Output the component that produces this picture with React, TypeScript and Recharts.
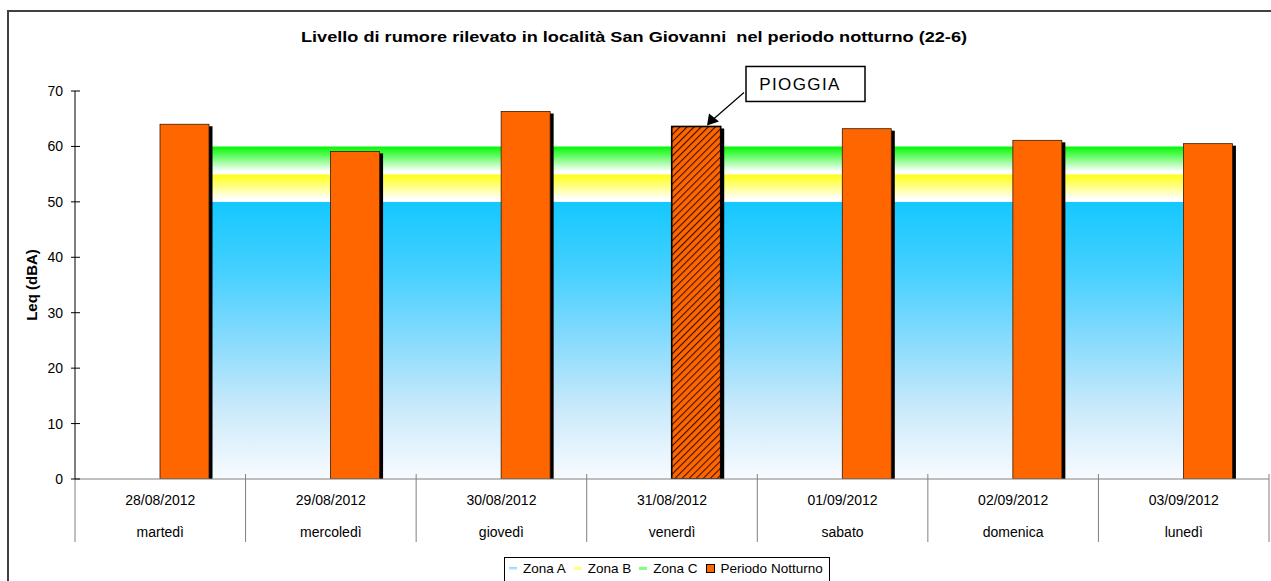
import React from 'react';
import { ComposedChart, Area, Bar, XAxis, YAxis, Legend, ReferenceDot } from 'recharts';

const dates = ['28/08/2012', '29/08/2012', '30/08/2012', '31/08/2012', '01/09/2012', '02/09/2012', '03/09/2012'];
const days = ['martedì', 'mercoledì', 'giovedì', 'venerdì', 'sabato', 'domenica', 'lunedì'];
const periodoNotturno = [64.0, 59.1, 66.3, 63.6, 63.2, 61.1, 60.5];
const zonaA = [50, 50, 50, 50, 50, 50, 50];
const zonaB = [5, 5, 5, 5, 5, 5, 5];
const zonaC = [5, 5, 5, 5, 5, 5, 5];
const yTicks = [0, 10, 20, 30, 40, 50, 60, 70];
const rainDay = '31/08/2012';
const rainLabel = 'PIOGGIA';

const FONT = '"Liberation Sans", Arial, sans-serif';
const CHART_W = 1271;
const CHART_H = 581;
const MARGIN = { top: 91, right: 2, left: 15, bottom: 0 };
const Y_W = 60;
const BAND = (CHART_W - MARGIN.left - MARGIN.right - Y_W) / dates.length;

const data = dates.map((d, i) => ({
  date: d,
  zonaA: zonaA[i],
  zonaB: zonaB[i],
  zonaC: zonaC[i],
  notte: periodoNotturno[i],
}));

const DateTick = ({ x, y, payload, index }: any) => {
  const half = BAND / 2;
  return (
    <g>
      <line x1={x - half} x2={x - half} y1={y - 5} y2={y + 63} stroke="#808080" />
      {index === dates.length - 1 && (
        <line x1={x + half} x2={x + half} y1={y - 5} y2={y + 63} stroke="#808080" />
      )}
      <text x={x} y={y + 26} textAnchor="middle" fontSize={14} fontFamily={FONT} fill="#000">
        {payload.value}
      </text>
      <text x={x} y={y + 58} textAnchor="middle" fontSize={14} fontFamily={FONT} fill="#000">
        {days[index]}
      </text>
    </g>
  );
};

// tick mark crosses the axis line, like the original
const LevelTick = ({ x, y, payload }: any) => (
  <g>
    <line x1={x + 8} x2={x + 17} y1={y} y2={y} stroke="#000" />
    <text x={x} y={y + 5} textAnchor="end" fontSize={14} fontFamily={FONT} fill="#000">
      {payload.value}
    </text>
  </g>
);

const NightBar = (props: any) => {
  const { x, y, width, height, payload } = props;
  if (!height || height <= 0) return null;
  const rain = payload && payload.date === rainDay;
  return (
    <g>
      <rect x={x + 3.5} y={y + 2} width={width} height={height - 2} fill="#000" />
      <rect
        x={x}
        y={y}
        width={width}
        height={height}
        fill={rain ? 'url(#rainHatch)' : '#FF6600'}
        stroke={rain ? '#000' : '#3a1a00'}
        strokeWidth={rain ? 1.6 : 0.8}
      />
    </g>
  );
};

const RainNote = ({ cx, cy }: any) => {
  if (cx == null || cy == null) return null;
  const tipX = cx + 35;
  const tipY = cy - 1;
  return (
    <g>
      <line x1={cx + 72} y1={cy - 34} x2={tipX + 6} y2={tipY - 6} stroke="#000" strokeWidth={1.2} />
      <polygon points={`${tipX},${tipY} ${tipX + 2},${tipY - 12} ${tipX + 12},${tipY - 4}`} fill="#000" />
      <rect x={cx + 74} y={cy - 60} width={119} height={35} fill="#fff" stroke="#000" strokeWidth={1.5} />
      <text x={cx + 128} y={cy - 36} textAnchor="middle" fontSize={17} letterSpacing={1.4} fontFamily={FONT} fill="#000">
        {rainLabel}
      </text>
    </g>
  );
};

const LegendBox = () => (
  <div
    style={{
      display: 'flex',
      alignItems: 'center',
      gap: 6,
      border: '1px solid #000',
      background: '#fff',
      padding: '3px 6px 6px 4px',
      fontFamily: FONT,
      fontSize: 13.5,
      color: '#000',
      whiteSpace: 'nowrap',
    }}
  >
    <span style={{ display: 'inline-block', width: 8, height: 3, background: 'linear-gradient(#7fd8ff,#dff3ff)' }} />
    <span>Zona A</span>
    <span style={{ display: 'inline-block', width: 8, height: 3, background: '#ffff80', marginLeft: 2 }} />
    <span>Zona B</span>
    <span style={{ display: 'inline-block', width: 8, height: 3, background: '#80ff80', marginLeft: 2 }} />
    <span>Zona C</span>
    <span style={{ display: 'inline-block', width: 7, height: 7, background: '#FF6600', border: '1px solid #000', marginLeft: 2 }} />
    <span>Periodo Notturno</span>
  </div>
);

export default function App() {
  return (
    <div style={{ position: 'absolute', left: 0, top: 0, width: CHART_W, height: CHART_H, overflow: 'hidden', background: '#fff' }}>
      <div
        style={{
          position: 'absolute',
          left: 7,
          top: 10,
          width: 1300,
          height: 600,
          borderLeft: '2px solid #404040',
          borderTop: '2px solid #404040',
        }}
      />
      <div
        style={{
          position: 'absolute',
          left: 0,
          top: 28,
          width: 1268,
          textAlign: 'center',
          fontFamily: FONT,
          fontWeight: 'bold',
          fontSize: 15.5,
          color: '#000',
          transform: 'scaleX(1.17)',
          transformOrigin: '634px 0',
        }}
      >
        Livello di rumore rilevato in località San Giovanni&nbsp; nel periodo notturno (22-6)
      </div>
      <div style={{ position: 'absolute', left: 0, top: 0 }}>
        <ComposedChart width={CHART_W} height={CHART_H} data={data} margin={MARGIN} barSize={49} barGap={0} barCategoryGap={0}>
          <defs>
            <linearGradient id="gradA" x1="0" y1="0" x2="0" y2="1">
              <stop offset="0" stopColor="#14C8FF" />
              <stop offset="0.25" stopColor="#45D0FF" />
              <stop offset="0.5" stopColor="#88DBFD" />
              <stop offset="0.75" stopColor="#CBEAFB" />
              <stop offset="1" stopColor="#F8FBFF" />
            </linearGradient>
            <linearGradient id="gradB" x1="0" y1="0" x2="0" y2="1">
              <stop offset="0" stopColor="#FFFF10" />
              <stop offset="0.9" stopColor="#FFFFFF" />
            </linearGradient>
            <linearGradient id="gradC" x1="0" y1="0" x2="0" y2="1">
              <stop offset="0" stopColor="#00F800" />
              <stop offset="0.9" stopColor="#FFFFFF" />
            </linearGradient>
            <pattern id="rainHatch" patternUnits="userSpaceOnUse" width="5" height="5" patternTransform="rotate(45)">
              <rect width="5" height="5" fill="#FF6600" />
              <line x1="0" y1="0" x2="0" y2="5" stroke="#3a1200" strokeWidth="2.2" />
            </pattern>
          </defs>
          <XAxis
            dataKey="date"
            height={102}
            tickLine={false}
            tickSize={0}
            tickMargin={0}
            axisLine={{ stroke: '#808080' }}
            tick={<DateTick />}
            interval={0}
          />
          <YAxis
            width={Y_W}
            domain={[0, 70]}
            ticks={yTicks}
            allowDataOverflow
            tickLine={false}
            tickSize={0}
            tickMargin={12}
            axisLine={{ stroke: '#000' }}
            tick={<LevelTick />}
            label={{
              value: 'Leq (dBA)',
              angle: -90,
              position: 'insideLeft',
              offset: 17,
              textAnchor: 'middle',
              style: { fontSize: 15, fontWeight: 'bold', fontFamily: FONT, fill: '#000', textAnchor: 'middle' },
            }}
          />
          <Area type="linear" dataKey="zonaA" name="Zona A" stackId="z" stroke="none" fill="url(#gradA)" fillOpacity={1} isAnimationActive={false} />
          <Area type="linear" dataKey="zonaB" name="Zona B" stackId="z" stroke="none" fill="url(#gradB)" fillOpacity={1} isAnimationActive={false} />
          <Area type="linear" dataKey="zonaC" name="Zona C" stackId="z" stroke="none" fill="url(#gradC)" fillOpacity={1} isAnimationActive={false} />
          <Bar dataKey="spacer" fill="none" legendType="none" isAnimationActive={false} />
          <Bar dataKey="notte" name="Periodo Notturno" shape={<NightBar />} isAnimationActive={false} />
          <ReferenceDot x={rainDay} y={periodoNotturno[dates.indexOf(rainDay)]} shape={<RainNote />} />
          <Legend
            verticalAlign="middle"
            align="center"
            layout="horizontal"
            wrapperStyle={{ left: 504, top: 557, width: 'auto', height: 'auto' }}
            content={<LegendBox />}
          />
        </ComposedChart>
      </div>
    </div>
  );
}
